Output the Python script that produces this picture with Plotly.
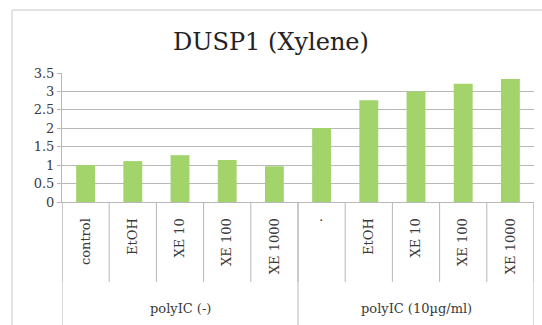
import plotly.graph_objects as go

# Relative DUSP1 expression after xylene exposure
treatments = ["control", "EtOH", "XE 10", "XE 100", "XE 1000",
              "\u00b7", "EtOH", "XE 10", "XE 100", "XE 1000"]
groups = ["polyIC (-)", "polyIC (10\u00b5g/ml)"]
group_sizes = [5, 5]
expression = [1.00, 1.11, 1.27, 1.14, 0.97, 2.01, 2.76, 3.00, 3.21, 3.34]
y_ticks = [0, 0.5, 1, 1.5, 2, 2.5, 3, 3.5]
y_tick_text = ["0", "0.5", "1", "1.5", "2", "2.5", "3", "3.5"]

W, H = 542, 325
ML, MR, MT, MB = 62, 8, 73, 123
plot_w = W - ML - MR
plot_h = H - MT - MB

SERIF = "DejaVu Serif"
TXT = "#3a3a3a"
LINE = "#b8b8b8"

idx = list(range(len(treatments)))

fig = go.Figure()
fig.add_trace(go.Bar(
    x=idx, y=expression, width=0.4,
    marker=dict(color="#a2d46b", line=dict(width=0)),
    hoverinfo="y",
))

shapes = []
# dividers between individual treatments
for i in range(len(treatments) + 1):
    shapes.append(dict(type="line", xref="x", yref="paper",
                       x0=i - 0.5, x1=i - 0.5, y0=0, y1=-80 / plot_h,
                       line=dict(color=LINE, width=1)))
# dividers between the polyIC groups, running to the bottom edge
start = 0
bounds = [0]
for n in group_sizes:
    start += n
    bounds.append(start)
for b in bounds:
    shapes.append(dict(type="line", xref="x", yref="paper",
                       x0=b - 0.5, x1=b - 0.5, y0=0, y1=-MB / plot_h,
                       line=dict(color=LINE, width=1)))
# chart frame
shapes.append(dict(type="rect", xref="paper", yref="paper",
                   x0=(12 - ML) / plot_w, x1=(W + 5 - ML) / plot_w,
                   y0=-(MB + 5) / plot_h, y1=(plot_h + MT - 10) / plot_h,
                   line=dict(color="#c8c8c8", width=1),
                   fillcolor="rgba(0,0,0,0)", layer="below"))

annotations = []
for g, lo, hi in zip(groups, bounds[:-1], bounds[1:]):
    annotations.append(dict(text=g, xref="x", yref="paper",
                            x=(lo + hi - 1) / 2, y=-106 / plot_h,
                            showarrow=False, yanchor="middle",
                            font=dict(family=SERIF, size=13, color=TXT)))

fig.update_layout(
    width=W, height=H,
    margin=dict(l=ML, r=MR, t=MT, b=MB, pad=0),
    paper_bgcolor="white", plot_bgcolor="white",
    showlegend=False,
    title=dict(text="DUSP1 (Xylene)", x=0.5, xref="container", xanchor="center",
               y=1 - 42 / H, yanchor="middle",
               font=dict(family=SERIF, size=24, color="#222222")),
    shapes=shapes,
    annotations=annotations,
    bargap=0.6,
)
fig.update_xaxes(
    type="linear", range=[-0.5, len(treatments) - 0.5],
    tickmode="array", tickvals=idx, ticktext=treatments,
    tickangle=-90, ticks="", showgrid=False, zeroline=False,
    showline=True, linecolor=LINE, linewidth=1,
    ticklabelstandoff=10,
    tickfont=dict(family=SERIF, size=13, color=TXT),
)
fig.update_yaxes(
    range=[0, 3.5], tickmode="array", tickvals=y_ticks, ticktext=y_tick_text,
    ticksuffix="\u00a0\u00a0",
    showgrid=True, gridcolor=LINE, gridwidth=1, zeroline=False,
    ticks="outside", ticklen=4, tickcolor=LINE,
    showline=True, linecolor=LINE, linewidth=1,
    tickfont=dict(family=SERIF, size=13, color=TXT),
)

fig.write_html("out.html")
